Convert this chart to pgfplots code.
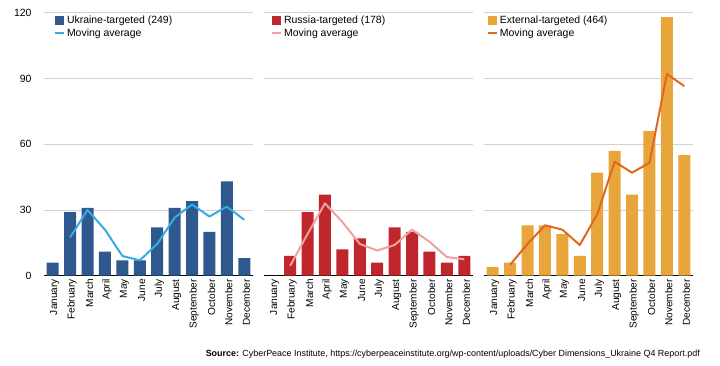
\documentclass[border=0pt]{standalone}
\usepackage{pgfplots}
\pgfplotsset{compat=1.18}
\usepackage{fontspec}
\setmainfont{Liberation Sans}
\usepackage{graphicx}

\definecolor{ukbar}{RGB}{46,88,142}
\definecolor{ukline}{RGB}{56,170,226}
\definecolor{rubar}{RGB}{192,39,45}
\definecolor{ruline}{RGB}{240,160,160}
\definecolor{exbar}{RGB}{232,165,60}
\definecolor{exline}{RGB}{224,104,30}

\pgfplotsset{
  panel/.style={
    scale only axis, width=209bp, height=263bp,
    xmin=-0.5, xmax=11.5, ymin=0, ymax=120,
    ytick={0,30,60,90,120}, xtick={0,...,11},
    xticklabels={January,February,March,April,May,June,July,August,September,October,November,December},
    xticklabel style={rotate=90, anchor=east, font=\fontsize{10.1}{10}\selectfont, yshift=-2bp},
    yticklabel style={font=\fontsize{10.5}{12}\selectfont, xshift=-9bp},
    /pgf/number format/assume math mode=true,
    major tick length=0pt,
    axis x line*=bottom, axis y line*=left,
    separate axis lines,
    x axis line style={black, line width=0.9bp, -},
    y axis line style={draw=none},
    ymajorgrids, grid style={black!18, line width=0.7bp},
    legend cell align=left,
    legend style={at={(axis description cs:#1,0.997)}, anchor=north west,
      draw=none, fill=none, inner sep=0pt, outer sep=0pt,
      font=\fontsize{10.5}{12}\selectfont, row sep=0.3bp,
      /tikz/every even column/.append style={column sep=0bp}},
  },
  barleg/.style={legend image code/.code={\fill[##1] (0bp,-4.5bp) rectangle (9bp,4.5bp);}},
  lineleg/.style={legend image code/.code={\draw[##1, line width=2bp] (0bp,0bp) -- (9bp,0bp);}},
}

\begin{document}
\begin{tikzpicture}[x=1bp,y=1bp]
\path[use as bounding box] (0,0) rectangle (720,365);

% Ukraine
\begin{axis}[panel=0.048, at={(44bp,89.3bp)}, anchor=south west]
\addplot[ybar, bar width=12bp, fill=ukbar, draw=none, barleg] coordinates {
(0,6) (1,29) (2,31) (3,11) (4,7) (5,7) (6,22) (7,31) (8,34) (9,20) (10,43) (11,8)};
\addlegendentry{Ukraine-targeted (249)}
\addplot[ukline, line width=2bp, line join=round, lineleg] coordinates {
(1,17.5) (2,30) (3,21) (4,9) (5,7) (6,14.5) (7,26.5) (8,32.5) (9,27) (10,31.5) (11,25.5)};
\addlegendentry{Moving average}
\end{axis}

% Russia
\begin{axis}[panel=0.034, at={(264bp,89.3bp)}, anchor=south west, yticklabels={}]
\addplot[ybar, bar width=12bp, fill=rubar, draw=none, barleg] coordinates {
(0,0) (1,9) (2,29) (3,37) (4,12) (5,17) (6,6) (7,22) (8,20) (9,11) (10,6) (11,9)};
\addlegendentry{Russia-targeted (178)}
\addplot[ruline, line width=2bp, line join=round, lineleg] coordinates {
(1,4.5) (2,19) (3,33) (4,24.5) (5,14.5) (6,11.5) (7,14) (8,21) (9,15.5) (10,8.5) (11,7.5)};
\addlegendentry{Moving average}
\end{axis}

% External
\begin{axis}[panel=0.014, at={(484bp,89.3bp)}, anchor=south west, yticklabels={}]
\addplot[ybar, bar width=12bp, fill=exbar, draw=none, barleg] coordinates {
(0,4) (1,6) (2,23) (3,23) (4,19) (5,9) (6,47) (7,57) (8,37) (9,66) (10,118) (11,55)};
\addlegendentry{External-targeted (464)}
\addplot[exline, line width=2bp, line join=round, lineleg] coordinates {
(1,5) (2,14.5) (3,23) (4,21) (5,14) (6,28) (7,52) (8,47) (9,51.5) (10,92) (11,86.5)};
\addlegendentry{Moving average}
\end{axis}

\node[anchor=east, inner sep=0pt] at (700,11) {\resizebox{494bp}{!}{\fontsize{9}{10}\selectfont\textbf{Source:} CyberPeace Institute, https://cyberpeaceinstitute.org/wp-content/uploads/Cyber Dimensions\_Ukraine Q4 Report.pdf}};
\end{tikzpicture}
\end{document}
